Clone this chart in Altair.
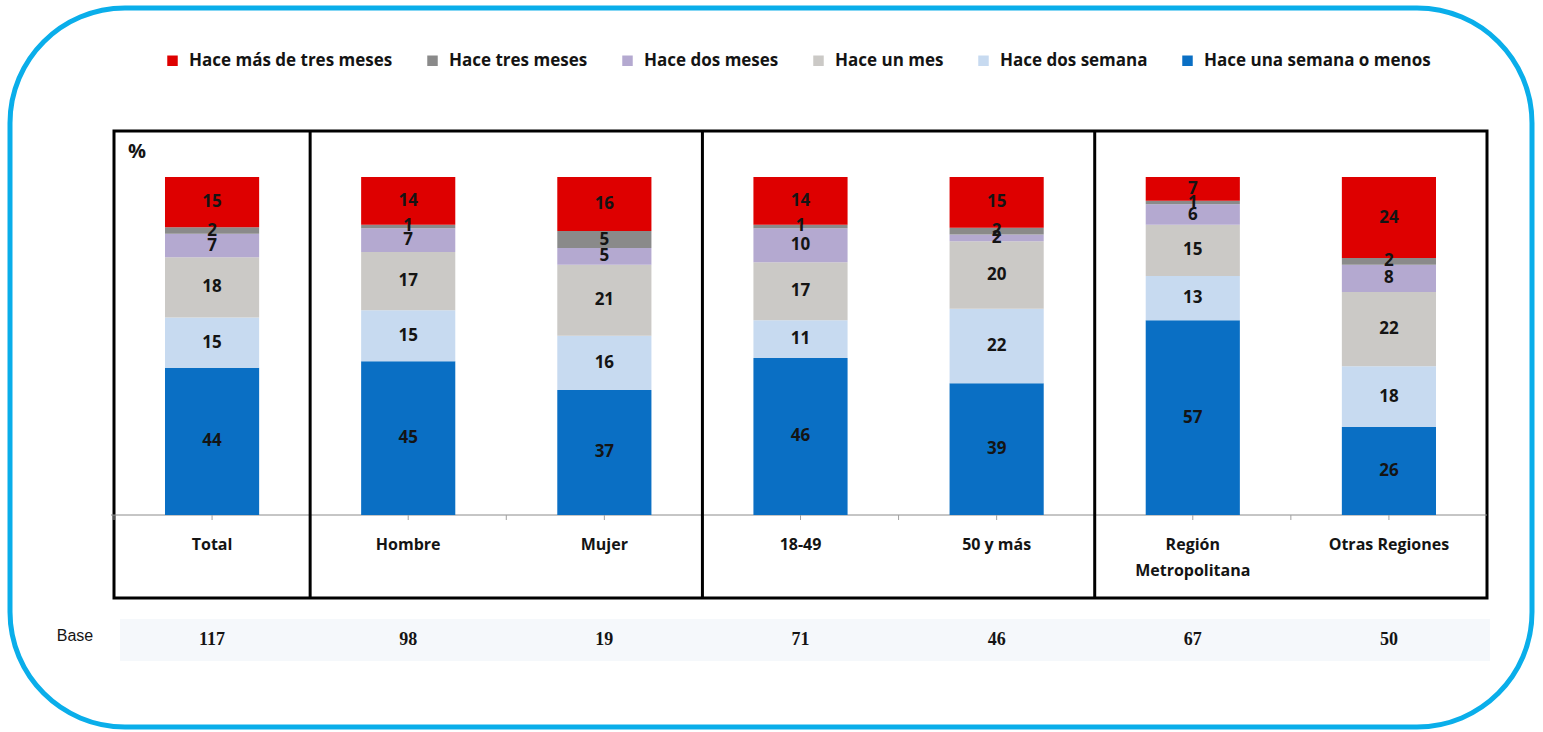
import altair as alt
import pandas as pd

# Categories (x axis) and their sample sizes
categorias = ["Total", "Hombre", "Mujer", "18-49", "50 y más",
              "Región Metropolitana", "Otras Regiones"]
etiquetas = ["Total", "Hombre", "Mujer", "18-49", "50 y más",
             "Región\nMetropolitana", "Otras Regiones"]
bases = [117, 98, 19, 71, 46, 67, 50]

# Series, listed from the bottom of each column to the top
series = ["Hace una semana o menos", "Hace dos semana", "Hace un mes",
          "Hace dos meses", "Hace tres meses", "Hace más de tres meses"]
una_semana = [44, 45, 37, 46, 39, 57, 26]
dos_semana = [15, 15, 16, 11, 22, 13, 18]
un_mes = [18, 17, 21, 17, 20, 15, 22]
dos_meses = [7, 7, 5, 10, 2, 6, 8]
tres_meses = [2, 1, 5, 1, 2, 1, 2]
mas_tres = [15, 14, 16, 14, 15, 7, 24]
valores = [una_semana, dos_semana, un_mes, dos_meses, tres_meses, mas_tres]

colores = {
    "Hace más de tres meses": "#DE0000",
    "Hace tres meses": "#8A8A8A",
    "Hace dos meses": "#B4A9D0",
    "Hace un mes": "#CBC9C6",
    "Hace dos semana": "#C7DAF0",
    "Hace una semana o menos": "#0A6FC4",
}
orden_leyenda = series[::-1]

filas = []
for i, (s, vals) in enumerate(zip(series, valores)):
    for c, v in zip(categorias, vals):
        filas.append({"cat": c, "serie": s, "orden": i, "valor": v})
df = pd.DataFrame(filas)

cats_df = pd.DataFrame({"cat": categorias, "etiqueta": etiquetas, "base": bases})
div_df = pd.DataFrame({"cat": ["Hombre", "18-49", "Región Metropolitana"]})
one = pd.DataFrame({"k": [0]})

W, H = 1373, 467
FONT = "Open Sans"
TXT = "#141414"

xscale = alt.Scale(domain=categorias, paddingInner=0, paddingOuter=0)
yscale = alt.Scale(domain=[-0.2456, 1.136], nice=False, zero=False)
X = alt.X("cat:N", scale=xscale, axis=None)
XB = alt.X("cat:N", scale=xscale, axis=None, bandPosition=0)

# Each column is scaled to 100 %: cumulative share from the bottom segment up
stacked = alt.Chart(df).transform_joinaggregate(
    total="sum(valor)", groupby=["cat"]
).transform_window(
    acum="sum(valor)", groupby=["cat"], sort=[alt.SortField("orden")],
    frame=[None, 0]
).transform_calculate(
    y1="datum.acum / datum.total",
    y0="(datum.acum - datum.valor) / datum.total",
    mid="(2 * datum.acum - datum.valor) / (2 * datum.total)",
)

bars = stacked.mark_bar(width=alt.RelativeBandSize(0.48)).encode(
    x=X,
    y=alt.Y("y0:Q", scale=yscale, axis=None),
    y2="y1:Q",
    color=alt.Color(
        "serie:N",
        scale=alt.Scale(domain=orden_leyenda,
                        range=[colores[s] for s in orden_leyenda]),
        legend=alt.Legend(
            title=None, orient="none", legendX=50, legendY=-79,
            direction="horizontal", symbolType="square", symbolSize=110,
            symbolStrokeWidth=0, labelFont=FONT, labelFontSize=17,
            labelFontWeight="bold", labelColor=TXT, labelOffset=8,
            columnPadding=31, labelLimit=400,
        ),
    ),
)

seg_labels = stacked.mark_text(
    font=FONT, fontSize=17, fontWeight="bold", color=TXT, baseline="middle"
).encode(x=X, y=alt.Y("mid:Q", scale=yscale, axis=None), text="valor:Q")

cat_base = alt.Chart(cats_df)

cat_labels = cat_base.transform_calculate(py="-0.066").mark_text(
    font=FONT, fontSize=16, fontWeight="bold", color=TXT, baseline="top",
    lineBreak="\n", lineHeight=26,
).encode(x=X, y=alt.Y("py:Q", scale=yscale, axis=None), text="etiqueta:N")

base_band = alt.Chart(one).mark_rect(color="#F5F8FB").encode(
    x=alt.value(6), x2=alt.value(1376), y=alt.value(488), y2=alt.value(530))

base_nums = cat_base.mark_text(
    font="Liberation Serif", fontSize=18, fontWeight="bold", color=TXT,
    baseline="middle",
).encode(x=X, y=alt.value(509), text="base:Q")

base_title = alt.Chart(pd.DataFrame({"t": ["Base"]})).mark_text(
    font="Liberation Sans", fontSize=16, color=TXT, baseline="middle",
).encode(x=alt.value(-39), y=alt.value(505), text="t:N")

pct = alt.Chart(pd.DataFrame({"t": ["%"]})).mark_text(
    font=FONT, fontSize=20, fontWeight="bold", color=TXT, baseline="middle",
).encode(x=alt.value(23), y=alt.value(21), text="t:N")

baseline = alt.Chart(one).mark_rule(color="#8C8C8C", strokeWidth=1).encode(
    x=alt.value(-3), x2=alt.value(W), y=alt.value(384))

ticks_c = cat_base.mark_rule(color="#A0A0A0", strokeWidth=1).encode(
    x=X, y=alt.value(384), y2=alt.value(389))
ticks_b = cat_base.mark_rule(color="#A0A0A0", strokeWidth=1).encode(
    x=XB, y=alt.value(384), y2=alt.value(389))

dividers = alt.Chart(div_df).mark_rule(color="black", strokeWidth=3).encode(
    x=XB, y=alt.value(0), y2=alt.value(H))

frame = alt.Chart(one).mark_rect(
    fillOpacity=0, stroke="#0AAEEA", strokeWidth=5, cornerRadius=115
).encode(x=alt.value(-104), x2=alt.value(1418), y=alt.value(-123),
         y2=alt.value(596))

chart = alt.layer(
    frame, base_band, baseline, ticks_c, ticks_b, bars, seg_labels,
    cat_labels, base_nums, base_title, pct, dividers,
).properties(
    width=W, height=H,
    padding={"left": 114, "top": 131, "right": 56, "bottom": 134},
    autosize=alt.AutoSizeParams(type="none"),
    background="white",
).configure_view(stroke="black", strokeWidth=3)

chart.save("out.html", embed_options={"renderer": "svg", "actions": False})
